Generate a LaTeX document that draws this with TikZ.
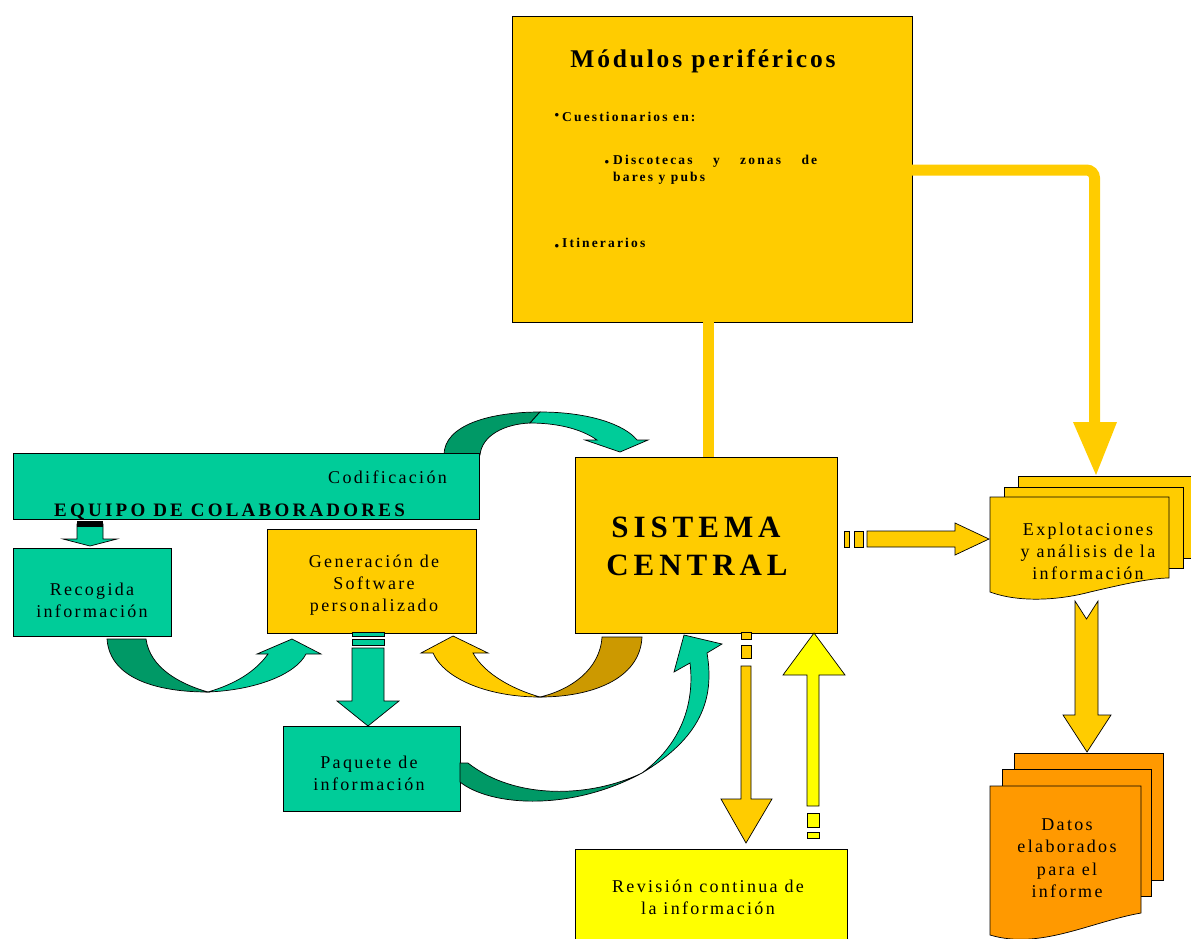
\documentclass[tikz,border=0pt]{standalone}
\usepackage{fontspec}
\setmainfont{Liberation Serif}
\newfontfamily\ls{Liberation Serif}[LetterSpace=13]
\newfontfamily\lsT{Liberation Serif}[LetterSpace=11]
\newfontfamily\lsS{Liberation Serif}[LetterSpace=16]
\newfontfamily\lsE{Liberation Serif}[LetterSpace=17]
\newfontfamily\lsQ{Liberation Serif}[LetterSpace=16]
\definecolor{gold}{HTML}{FFCC00}
\definecolor{tealc}{HTML}{00CC99}
\definecolor{dteal}{HTML}{009966}
\definecolor{dgold}{HTML}{CC9900}
\definecolor{yel}{HTML}{FFFF00}
\definecolor{orng}{HTML}{FF9900}
\begin{document}
\begin{tikzpicture}[x=1pt,y=-1pt,
  box/.style={draw=black,line width=0.8pt,inner sep=0pt,anchor=north west},
  lbl/.style={anchor=base,inner sep=0pt,font=\fontsize{18}{22}\selectfont\ls},
  qtxt/.style={anchor=base west,inner sep=0pt,font=\fontsize{13.5}{16}\selectfont\lsQ\bfseries},
  bul/.style={anchor=base,inner sep=0pt,font=\fontsize{13}{13}\selectfont\bfseries},
  blk/.style={draw=black,line width=0.7pt,line join=miter}]
\useasboundingbox (0,0) rectangle (1191,938);
\clip (0,0) rectangle (1191,938);

% Modulos perifericos
\node[box,fill=gold,line width=1pt,minimum width=400pt,minimum height=306pt] (mod) at (512,16) {};
\node[anchor=base,inner sep=0pt,font=\fontsize{25.5}{30}\selectfont\lsT\bfseries] (modt) at (703,67) {Módulos periféricos};
\node[bul] (b1) at (557,119) {\textbullet};
\node[qtxt] (q1) at (562,121) {Cuestionarios en:};
\node[bul] (b2) at (607,166) {\textbullet};
\node[qtxt] (q2) at (613,164) {\makebox[204pt][s]{Discotecas y zonas de}};
\node[qtxt] (q3) at (613,181) {bares y pubs};
\node[bul] (b3) at (557,250) {\textbullet};
\node[qtxt] (q4) at (562,247) {Itinerarios};

% connectors from Modulos
\fill[gold] (703,322) rectangle (714,458);
\draw[gold,line width=11pt,rounded corners=8pt] (912,170) -- (1094.5,170) -- (1094.5,425);
\fill[gold] (1073,422) -- (1117,422) -- (1096,475) -- cycle;

% curved arrow Codificacion -> Sistema
\filldraw[blk,fill=dteal] (444,455) .. controls (444,425) and (490,412) .. (540,412) -- (530,423) .. controls (505,424) and (482,435) .. (480,455) -- cycle;
\filldraw[blk,fill=tealc] (540,412) .. controls (590,412) and (625,425) .. (637,440) -- (648,440) -- (620,452) -- (585,440) -- (597,440) .. controls (580,428) and (555,423) .. (530,423) -- cycle;

% Codificacion / equipo
\node[box,fill=tealc,minimum width=466pt,minimum height=66pt] (cod) at (13,453) {};
\node[lbl,anchor=base west] (codt) at (328,483) {Codificación};
\node[anchor=base west,inner sep=0pt,font=\fontsize{19}{22}\selectfont\lsE\bfseries] (eq) at (54,516) {EQUIPO DE COLABORADORES};

% small arrow to Recogida
\filldraw[blk,fill=tealc] (77,524) -- (103,524) -- (103,539) -- (117,539) -- (90,546) -- (63,539) -- (77,539) -- cycle;
\fill[black] (77,521) rectangle (103,527);

% boxes
\node[box,fill=tealc,minimum width=158pt,minimum height=88pt] (rec) at (13,548) {};
\node[lbl] (rec1) at (92,595) {Recogida};
\node[lbl] (rec2) at (92,617) {información};

\node[box,fill=gold,minimum width=209pt,minimum height=104pt] (gen) at (267,529) {};
\node[lbl] (gen1) at (374,567) {Generación de};
\node[lbl] (gen2) at (374,589) {Software};
\node[lbl] (gen3) at (374,611) {personalizado};

\node[box,fill=gold,minimum width=262pt,minimum height=176pt] (sis) at (575,457) {};
\node[anchor=base,inner sep=0pt,font=\fontsize{31}{36}\selectfont\lsS\bfseries] (sis1) at (696,537) {SISTEMA};
\node[anchor=base,inner sep=0pt,font=\fontsize{31}{36}\selectfont\lsS\bfseries] (sis2) at (697,575) {CENTRAL};

% curved arrow Recogida -> Generacion
\filldraw[blk,fill=dteal] (107,639) .. controls (110,680) and (160,692) .. (208,692) .. controls (180,684) and (150,668) .. (146,639) -- cycle;
\filldraw[blk,fill=tealc] (208,692) .. controls (255,690) and (295,675) .. (306,654) -- (321,654) -- (292,639) -- (257,654) -- (268,654) .. controls (255,672) and (235,684) .. (208,692) -- cycle;

% curved arrow Sistema -> Generacion
\filldraw[blk,fill=dgold] (642,637) .. controls (640,680) and (590,697) .. (540,697) .. controls (570,690) and (600,670) .. (602,637) -- cycle;
\filldraw[blk,fill=gold] (540,697) .. controls (490,697) and (445,680) .. (433,653) -- (421,653) -- (453,636) -- (488,653) -- (473,653) .. controls (485,675) and (515,690) .. (540,697) -- cycle;

% striped arrow Generacion -> Paquete
\filldraw[blk,fill=tealc] (352,632) rectangle (384,636);
\filldraw[blk,fill=tealc] (352,639) rectangle (384,645);
\filldraw[blk,fill=tealc] (352,648) -- (384,648) -- (384,701) -- (399,701) -- (368,726) -- (337,701) -- (352,701) -- cycle;

\node[box,fill=tealc,minimum width=177pt,minimum height=85pt] (paq) at (283,726) {};
\node[lbl] (paq1) at (369,768) {Paquete de};
\node[lbl] (paq2) at (369,790) {información};

% curved arrow Paquete -> Sistema
\filldraw[blk,fill=dteal] (460,782) .. controls (490,806) and (570,812) .. (642,773) .. controls (590,798) and (515,800) .. (468,763) -- (460,763) -- cycle;
\filldraw[blk,fill=tealc] (642,773) .. controls (700,738) and (715,700) .. (707,653) -- (722,644) -- (684,635) -- (674,672) -- (690,663) .. controls (695,705) and (680,745) .. (642,773) -- cycle;

% Sistema -> Revision (down, gold)
\filldraw[blk,fill=gold] (741,632) rectangle (751,639);
\filldraw[blk,fill=gold] (741,645) rectangle (751,658);
\filldraw[blk,fill=gold] (741,666) -- (751,666) -- (751,799) -- (772,799) -- (746,843) -- (721,799) -- (741,799) -- cycle;

% Revision -> Sistema (up, yellow)
\filldraw[blk,fill=yel] (807,806) -- (807,675) -- (783,675) -- (814,633) -- (845,675) -- (819,675) -- (819,806) -- cycle;
\filldraw[blk,fill=yel] (807,813) rectangle (819,827);
\filldraw[blk,fill=yel] (807,832) rectangle (819,838);

\node[box,fill=yel,minimum width=272pt,minimum height=110pt] (rev) at (575,849) {};
\node[lbl] (rev1) at (708,892) {Revisión continua de};
\node[lbl] (rev2) at (708,914) {la información};

% Sistema -> Explotaciones
\filldraw[blk,fill=gold] (844,531) rectangle (849,547);
\filldraw[blk,fill=gold] (854,531) rectangle (863,547);
\filldraw[blk,fill=gold] (867,531) -- (955,531) -- (955,523) -- (989,539) -- (955,555) -- (955,547) -- (867,547) -- cycle;

% Explotaciones documents
\filldraw[blk,fill=gold] (1018,476) rectangle (1200,558);
\filldraw[blk,fill=gold] (1004,487) rectangle (1183,568);
\filldraw[blk,fill=gold] (990,497) -- (1169,497) -- (1169,578) .. controls (1150,578) and (1120,585) .. (1090,592) .. controls (1060,600) and (1020,603) .. (990,592) -- cycle;
\node[lbl] (exp1) at (1088,535) {Explotaciones};
\node[lbl] (exp2) at (1088,557) {y análisis de la};
\node[lbl] (exp3) at (1088,579) {información};

% Explotaciones -> Datos
\filldraw[blk,fill=gold] (1075,601) -- (1086.5,619) -- (1098,601) -- (1098,715) -- (1111,715) -- (1087,752) -- (1063,715) -- (1075,715) -- cycle;

% Datos documents
\filldraw[blk,fill=orng] (1014,753) rectangle (1163,880);
\filldraw[blk,fill=orng] (1002,769) rectangle (1151,896);
\filldraw[blk,fill=orng] (990,786) -- (1141,786) -- (1141,913) .. controls (1090,922) and (1040,950) .. (990,935) -- cycle;
\node[lbl] (dat1) at (1067,830) {Datos};
\node[lbl] (dat2) at (1067,852) {elaborados};
\node[lbl] (dat3) at (1067,875) {para el};
\node[lbl] (dat4) at (1067,897) {informe};
\end{tikzpicture}
\end{document}
